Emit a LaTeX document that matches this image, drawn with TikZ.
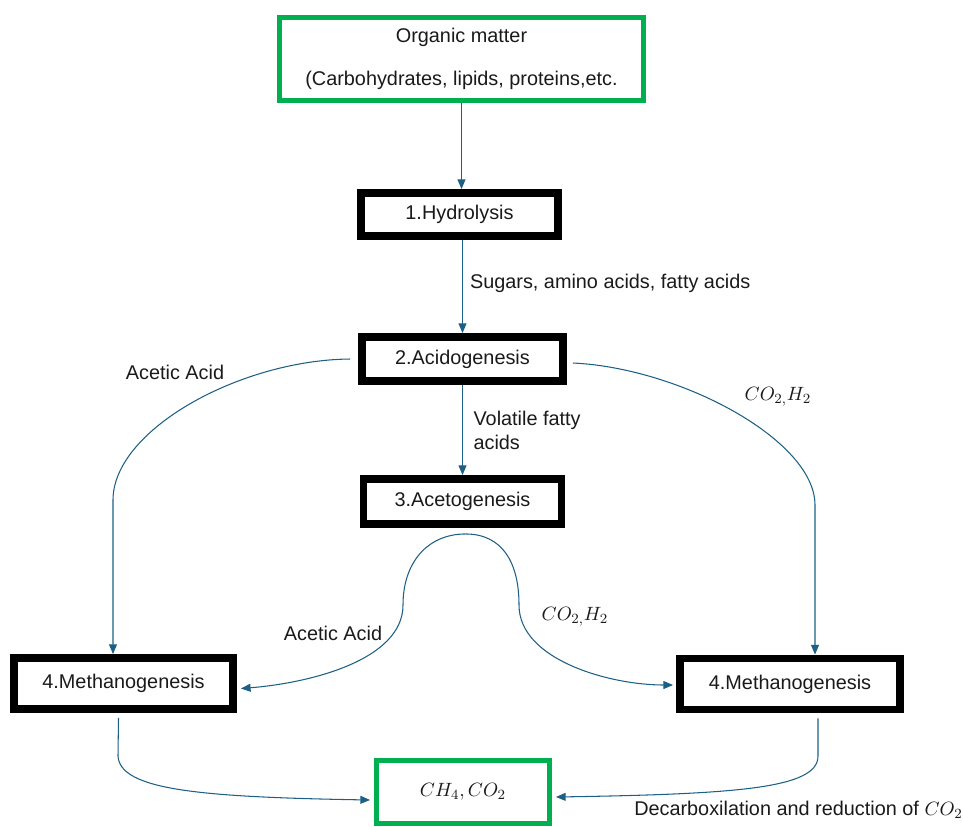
\documentclass[tikz,border=0pt]{standalone}
\usepackage[no-math]{fontspec}
\setmainfont{Liberation Sans}
\usetikzlibrary{arrows.meta, calc}
\definecolor{stepLine}{HTML}{000000}
\definecolor{endLine}{HTML}{00B050}
\definecolor{arrowBlue}{HTML}{1D6085}
\definecolor{labelText}{HTML}{1A1A1A}

\begin{document}
\begin{tikzpicture}[
  x=0.02cm, y=-0.02cm,
  font=\fontsize{11.3}{13.6}\selectfont,
  box/.style    ={draw, fill=white, align=center, inner sep=2pt, text=labelText},
  stage/.style  ={box, draw=stepLine, line width=4.5pt, minimum height=0.88cm},
  ends/.style   ={box, draw=endLine, line width=2.8pt},
  lbl/.style    ={text=labelText, inner sep=0pt, align=left},
  flow/.style   ={-{Triangle[length=5.5pt, width=4.5pt]}, draw=arrowBlue, line width=0.6pt},
]
\useasboundingbox (0,0) rectangle (963,826);
% ----- Input -----
\node[ends, minimum width=7.28cm, minimum height=1.66cm] (org) at (461.5,59)
  {Organic matter\\[11pt](Carbohydrates, lipids, proteins,etc.};
% ----- Stages 1-3 -----
\node[stage, minimum width=3.94cm, minimum height=0.86cm] (hyd) at (459.5,214.5) {1.Hydrolysis};
\node[stage, minimum width=4.02cm] (acid) at (462.5,359) {2.Acidogenesis};
\node[stage, minimum width=3.96cm, minimum height=0.9cm] (aceto) at (462.5,501.5) {3.Acetogenesis};
\draw[flow] (org.south) -- (org.south |- hyd.north);
\draw[flow] (acid.north |- hyd.south) -- (acid.north)
  node[lbl, anchor=west, pos=0.47, xshift=4pt] {Sugars, amino acids, fatty acids};
\draw[flow] (aceto.north |- acid.south) -- (aceto.north)
  node[lbl, anchor=west, pos=0.5, xshift=6pt] {Volatile fatty\\acids};
% ----- Stage 4 -----
\node[stage, minimum width=4.38cm, minimum height=1.02cm] (methL) at (123.5,683.5) {4.Methanogenesis};
\node[stage, minimum width=4.4cm, minimum height=1.02cm] (methR) at (790,684) {4.Methanogenesis};
\coordinate (aL) at (113,500);
\coordinate (aR) at (815,505);
\draw[flow] ($(acid.west)+(-8,0)$) .. controls (240,360) and (113,430) .. (aL) -- (aL |- methL.north);
\draw[flow] ($(acid.east)+(6,4)$) .. controls (680,368) and (815,440) .. (aR) -- (aR |- methR.north);
\node[lbl] at (175,372) {Acetic Acid};
\node[lbl] at (778,397) {$CO_{2,}H_2$};
% ----- Acetogenesis products -----
\coordinate (lobeL) at (403,605);
\coordinate (lobeR) at (519,605);
\draw[flow] ($(aceto.south)+(3,6)$) .. controls (428,534) and (403,562) .. (lobeL)
  .. controls (403,660) and (310,683) .. ($(methL.east)+(4,5)$);
\draw[flow] ($(aceto.south)+(3,6)$) .. controls (502,534) and (519,562) .. (lobeR)
  .. controls (519,660) and (610,685) .. ($(methR.west)+(-3,1)$);
\node[lbl] at (333,633) {Acetic Acid};
\node[lbl] at (575,617) {$CO_{2,}H_2$};
% ----- Output -----
\node[ends, minimum width=3.46cm, minimum height=1.26cm] (gas) at (463,792) {$CH_4, CO_2$};
\coordinate (bL) at (118,756);
\coordinate (bR) at (818,756);
\draw[flow] ($(methL.south)+(-5,5)$) -- (bL) .. controls (120,790) and (200,797) .. ($(gas.west)+(-4,8)$);
\draw[flow] ($(methR.south)+(28,5)$) -- (bR) .. controls (818,788) and (740,794) .. ($(gas.east)+(4,5)$);
\node[lbl, anchor=east] at (963,810) {Decarboxilation and reduction of $CO_2$};
\end{tikzpicture}
\end{document}
